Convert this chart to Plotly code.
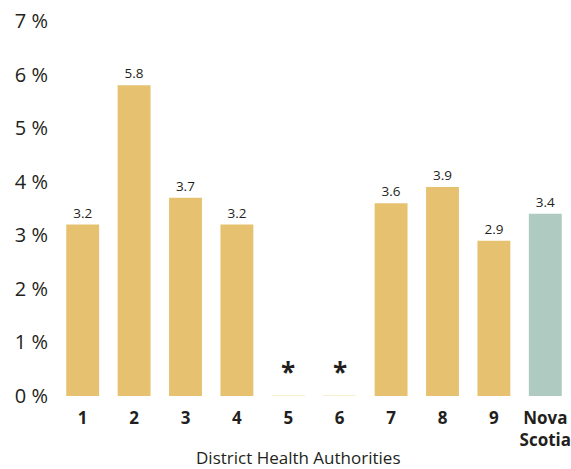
import plotly.graph_objects as go

# District Health Authorities (1-9) plus the provincial total
categories = ["1", "2", "3", "4", "5", "6", "7", "8", "9", "Nova<br>Scotia"]
values = [3.2, 5.8, 3.7, 3.2, 0, 0, 3.6, 3.9, 2.9, 3.4]
value_labels = ["3.2", "5.8", "3.7", "3.2", "", "", "3.6", "3.9", "2.9", "3.4"]
suppressed = [False, False, False, False, True, True, False, False, False, False]
y_ticks = [0, 1, 2, 3, 4, 5, 6, 7]

GOLD = "#E6C270"
TEAL = "#AFCAC0"
PALE = "#F6E6C2"
INK = "#231F20"
FONT = "Open Sans, Noto Sans, sans-serif"

colors = [TEAL if c.startswith("Nova") else GOLD for c in categories]
line_colors = [PALE if s else "rgba(0,0,0,0)" for s in suppressed]

fig = go.Figure()
fig.add_trace(go.Bar(
    x=categories,
    y=values,
    marker=dict(color=colors, line=dict(color=line_colors, width=1)),
    text=value_labels,
    textposition="outside",
    cliponaxis=False,
    textfont=dict(family=FONT, size=13.5, color=INK),
    hoverinfo="skip",
))

# Asterisks mark districts whose rates are suppressed
for i, s in enumerate(suppressed):
    if s:
        fig.add_annotation(
            x=i, y=0, yref="y", xref="x",
            text="<b>*</b>", showarrow=False,
            yshift=24,
            font=dict(family=FONT, size=26, color=INK),
        )

plot_left, plot_width = 57, 571 - 57
fig.add_annotation(
    x=(298 - plot_left) / plot_width, xref="paper", xanchor="center",
    y=-0.163, yref="paper", yanchor="middle",
    text="District Health Authorities", showarrow=False,
    font=dict(family=FONT, size=17, color=INK),
)

fig.update_layout(
    width=571, height=469,
    margin=dict(l=57, r=0, t=21, b=73),
    paper_bgcolor="white", plot_bgcolor="white",
    bargap=0.36,
    showlegend=False,
    font=dict(family=FONT, color=INK),
    xaxis=dict(
        type="category",
        range=[-0.5, 9.5],
        showgrid=False, zeroline=False, showline=False,
        ticks="", ticklabelstandoff=10,
        tickfont=dict(family=FONT, size=17, color=INK),
        tickprefix="<b>", ticksuffix="</b>",
    ),
    yaxis=dict(
        range=[0, 7], tickvals=y_ticks,
        ticktext=[f"{v} %" for v in y_ticks],
        showgrid=False, zeroline=False, showline=False,
        ticks="", ticklabelstandoff=8,
        tickfont=dict(family=FONT, size=20, color=INK),
    ),
)

fig.write_html("out.html")
